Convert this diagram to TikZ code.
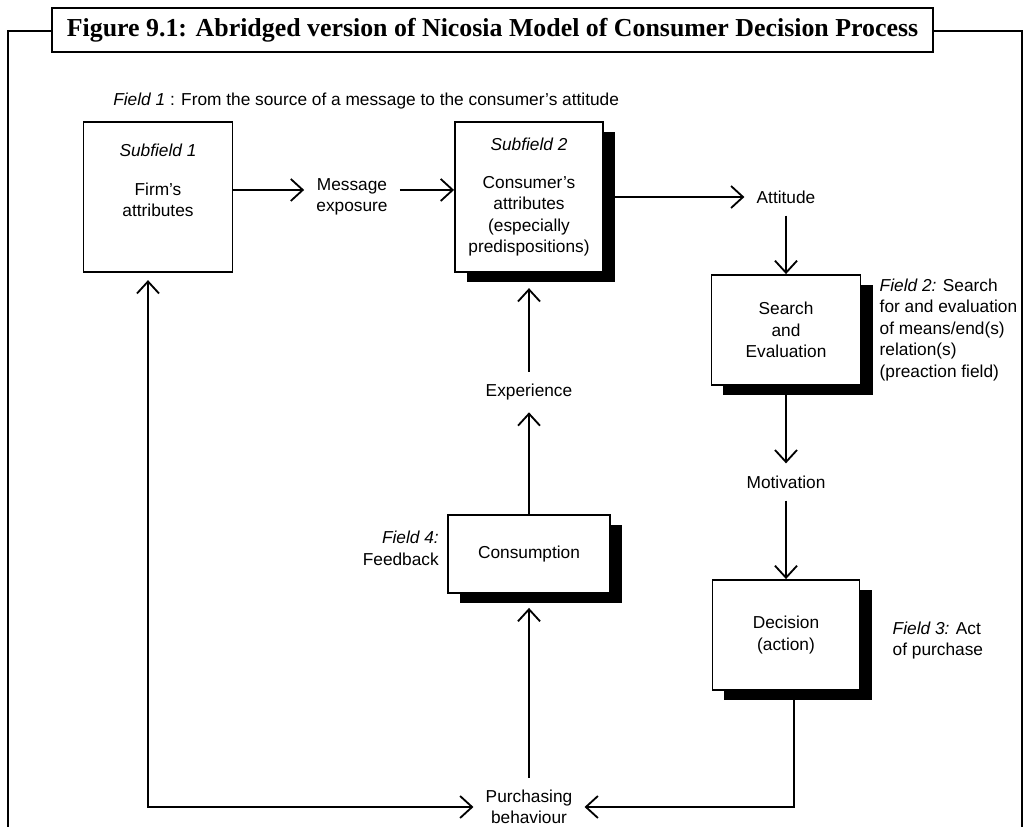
\documentclass[tikz,border=0pt]{standalone}
\usepackage{fontspec}
\setmainfont{Liberation Sans}
\newfontfamily\titlefont{Liberation Serif}
\usetikzlibrary{arrows.meta,positioning,shadows}

\begin{document}
\begin{tikzpicture}[x=0.025cm,y=-0.025cm,>={Straight Barb[length=0.3cm,width=0.55cm]},
        font=\fontsize{12.3}{15.3}\selectfont]
        \tikzset{
            box/.style= {
                draw,
                line width=1.3pt,
                fill=white,
                align=center,
                inner sep=0pt
            },
            shbox/.style= {
                box,
                drop shadow={shadow xshift=0.3cm, shadow yshift=-0.25cm, fill=black, opacity=1}
            },
            lbl/.style= {align=center, inner sep=0.3cm},
            note/.style= {align=left, inner sep=0pt},
            arr/.style= {->, line width=1.3pt},
        }
        \useasboundingbox (0,0) rectangle (1026,827);
%% frame and title
\draw[line width=1.7pt] (8,827) -- (8,31) -- (1022,31) -- (1022,827);
        \node [draw, line width=1.7pt, fill=white, minimum width=22.025cm, minimum height=1.1cm,
            font=\titlefont\bfseries\fontsize{18.4}{20}\selectfont] (title) at (492.5,30)
            {Figure 9.1: Abridged version of Nicosia Model of Consumer Decision Process};
        \node [note, anchor=west] (field1) at (113,101)
            {\textit{Field 1} : From the source of a message to the consumer's attitude};
%% boxes
        \node [box, minimum width=3.725cm, minimum height=3.75cm] (firm) at (158,197)
            {\textit{Subfield 1}\\[12pt]Firm's\\attributes\\[8pt]};
        \node [shbox, minimum width=3.7cm, minimum height=3.75cm] (consumer) at (529,197)
            {\textit{Subfield 2}\\[12pt]Consumer's\\attributes\\(especially\\predispositions)};
        \node [shbox, minimum width=3.725cm, minimum height=2.75cm] (search) at (786,330)
            {Search\\and\\Evaluation};
        \node [shbox, minimum width=4.05cm, minimum height=1.95cm] (cons) at (529,554)
            {Consumption};
        \node [shbox, minimum width=3.675cm, minimum height=2.75cm] (decision) at (786,635)
            {Decision\\(action)};
%% labels
        \node [lbl] (msg) at (352,197) {Message\\exposure};
        \node [lbl] (attitude) at (786,197) {Attitude};
        \node [lbl] (experience) at (529,392) {Experience};
        \node [lbl] (motivation) at (786,482) {Motivation};
        \node [lbl] (purch) at (529,807) {Purchasing\\behaviour};
        \node [note, right=0.45cm of search] (field2)
            {\textit{Field 2:} Search\\for and evaluation\\of means/end(s)\\relation(s)\\(preaction field)};
        \node [note, right=0.8cm of decision, yshift=-4pt] (field3)
            {\textit{Field 3:} Act\\of purchase};
        \node [note, align=right, left=0.2cm of cons, yshift=4pt] (field4)
            {\textit{Field 4:}\\Feedback};
%% paths
\draw[arr] ([yshift=5pt]firm.east) -- ([yshift=5pt]msg.west);
\draw[arr] ([yshift=5pt]msg.east) -- ([yshift=5pt]consumer.west);
\draw[arr] (consumer.east) -- (attitude.west);
\draw[arr] (attitude.south) -- (search.north);
\draw[arr] (search.south) -- (motivation.north);
\draw[arr] (motivation.south) -- (decision.north);
\draw[arr] ([xshift=0.2cm]decision.south) |- (purch.east);
\draw[arr, <->, shorten <=0.18cm] ([xshift=-0.25cm]firm.south) |- (purch.west);
\draw[arr, shorten >=0.35cm] (purch.north) -- (cons.south);
\draw[arr] (cons.north) -- (experience.south);
\draw[arr, shorten >=0.38cm] (experience.north) -- (consumer.south);
\end{tikzpicture}
\end{document}
